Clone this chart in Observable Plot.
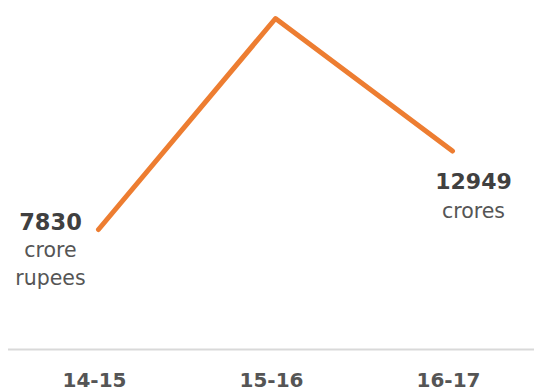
<!DOCTYPE html>
<html><head><meta charset="utf-8">
<script src="https://cdn.jsdelivr.net/npm/d3@7"></script>
<script src="https://cdn.jsdelivr.net/npm/@observablehq/plot@0.6"></script>
<style>body{margin:0;background:#fff}</style>
</head><body><div id="chart"></div>
<script>
const years = ["14-15", "15-16", "16-17"];
const values = [7830, 21600, 12949];
const valueLabels = ["7830", "", "12949"];
const unitLabels = ["crore\nrupees", "", "crores"];

const data = years.map((y, i) => ({year: y, value: values[i], label: valueLabels[i], unit: unitLabels[i]}));
const font = "'DejaVu Sans', sans-serif";

const chart = Plot.plot({
  width: 534, height: 390,
  marginLeft: 8, marginRight: 0, marginTop: 18, marginBottom: 41,
  style: {fontFamily: font, background: "#fff"},
  x: {type: "point", domain: years, range: [97, 452], padding: 0, label: null},
  y: {domain: [0, 21600], axis: null},
  marks: [
    Plot.ruleY([0], {stroke: "#d9d9d9", strokeWidth: 2}),
    Plot.axisX({tickSize: 0, tickPadding: 23, fontSize: 20, fontWeight: "bold", fill: "#555", label: null, dx: -4}),
    Plot.line(data, {x: "year", y: "value", stroke: "#ED7D31", strokeWidth: 5}),
    Plot.text(data.slice(0, 1), {x: "year", y: "value", text: "label", fontSize: 22.5, fontWeight: "bold", fill: "#404040", dx: -48, lineAnchor: "bottom", dy: 0}),
    Plot.text(data.slice(0, 1), {x: "year", y: "value", text: "unit", fontSize: 20.5, fill: "#555", dx: -48, lineAnchor: "bottom", dy: 55, lineHeight: 1.32}),
    Plot.text(data.slice(2), {x: "year", y: "value", text: "label", fontSize: 22, fontWeight: "bold", fill: "#404040", dx: 21, lineAnchor: "bottom", dy: 38}),
    Plot.text(data.slice(2), {x: "year", y: "value", text: "unit", fontSize: 20.5, fill: "#555", dx: 21, lineAnchor: "bottom", dy: 67})
  ]
});
document.getElementById("chart").append(chart);
</script>
</body></html>
